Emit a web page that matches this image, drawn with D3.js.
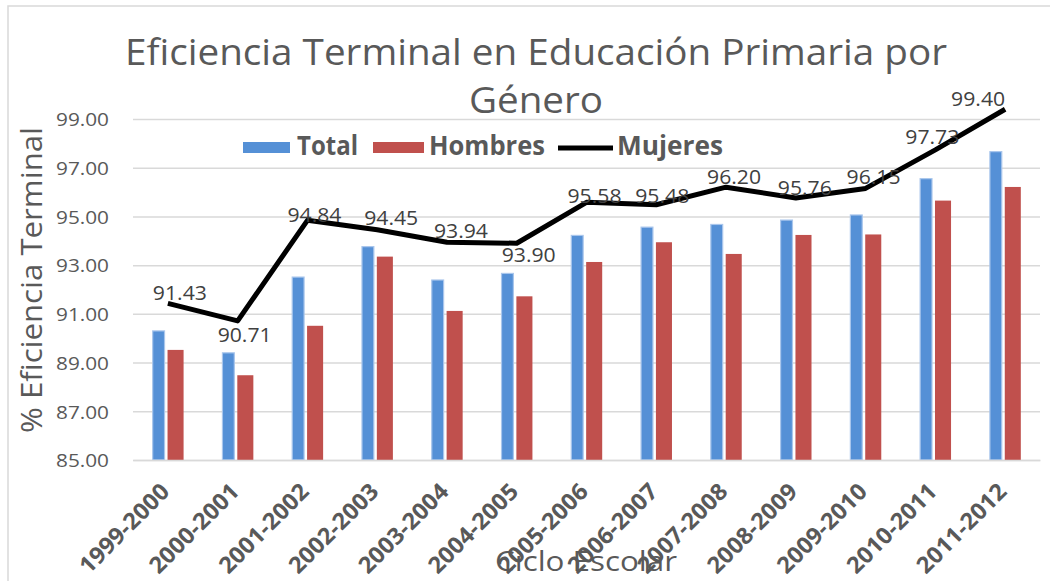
<!DOCTYPE html>
<html>
<head>
<meta charset="utf-8">
<script src="https://cdn.jsdelivr.net/npm/d3@7"></script>
<style>
  html, body { margin: 0; padding: 0; background: #ffffff; }
  svg { display: block; }
</style>
</head>
<body>
<svg id="chart" width="1050" height="581"></svg>
<script>
// ---------- data ----------
const categories = ["1999-2000", "2000-2001", "2001-2002", "2002-2003", "2003-2004", "2004-2005",
  "2005-2006", "2006-2007", "2007-2008", "2008-2009", "2009-2010", "2010-2011", "2011-2012"];
const totalValues = [90.30, 89.40, 92.51, 93.76, 92.39, 92.66, 94.22, 94.56, 94.67, 94.85, 95.06, 96.55, 97.66];
const hombresValues = [89.52, 88.48, 90.51, 93.35, 91.12, 91.72, 93.13, 93.94, 93.46, 94.24, 94.26, 95.65, 96.21];
const mujeresValues = [91.43, 90.71, 94.84, 94.45, 93.94, 93.90, 95.58, 95.48, 96.20, 95.76, 96.15, 97.73, 99.40];
const yTickValues = [85, 87, 89, 91, 93, 95, 97, 99];
const seriesNames = ["Total", "Hombres", "Mujeres"];
const titleLines = ["Eficiencia Terminal en Educación Primaria por", "Género"];
const yAxisTitle = "% Eficiencia Terminal";
const xAxisTitle = "Ciclo Escolar";

// ---------- layout / style (not data) ----------
const labelOffsets = [[12,-3],[7,21],[7,2],[14,-5],[14,-4],[12,19],[8,1],[6,-2],[8,-3],[9,-3],[8,-4],[-3,-6],[-27,-3]];
const colors = { total: "#5590D6", hombres: "#C0504D", mujeres: "#000000", text: "#595959", label: "#404040", grid: "#D9D9D9" };
const plot = { left: 133, right: 1040, top: 119, bottom: 460 };
const FONT = "'Open Sans', 'Noto Sans', sans-serif";

const svg = d3.select("#chart");

// chart frame
svg.append("rect").attr("x", 8).attr("y", 6).attr("width", 1100).attr("height", 640)
  .attr("fill", "#fff").attr("stroke", colors.grid).attr("stroke-width", 1.5);

const x = d3.scaleBand().domain(categories).range([plot.left, plot.right]).padding(0);
const y = d3.scaleLinear().domain([85, 99]).range([plot.bottom, plot.top]);
const bw = x.bandwidth();
const cx = d => x(d) + bw / 2;

// gridlines + y axis
const yAxis = d3.axisLeft(y).tickValues(yTickValues).tickFormat(d3.format(".2f"))
  .tickSize(-(plot.right - plot.left)).tickPadding(24);
const gy = svg.append("g").attr("transform", `translate(${plot.left},0)`).call(yAxis);
gy.select(".domain").remove();
gy.selectAll(".tick line").attr("stroke", colors.grid).attr("stroke-width", 1.5);
gy.selectAll(".tick text").attr("fill", colors.text).attr("font-family", FONT)
  .attr("font-size", 19).attr("dy", "0.36em").attr("textLength", 53).attr("lengthAdjust", "spacingAndGlyphs");

// bars
const gBars = svg.append("g");
gBars.selectAll("rect.total").data(categories).enter().append("rect")
  .attr("class", "total")
  .attr("x", d => cx(d) - bw * 0.218)
  .attr("width", bw * 0.17)
  .attr("y", (d, i) => y(totalValues[i]))
  .attr("height", (d, i) => y(85) - y(totalValues[i]))
  .attr("fill", colors.total)
  .attr("stroke", "#A9C6EC").attr("stroke-width", 1.2);
gBars.selectAll("rect.hombres").data(categories).enter().append("rect")
  .attr("class", "hombres")
  .attr("x", d => cx(d) - bw * 0.005)
  .attr("width", bw * 0.23)
  .attr("y", (d, i) => y(hombresValues[i]))
  .attr("height", (d, i) => y(85) - y(hombresValues[i]))
  .attr("fill", colors.hombres);

// x axis
const xAxis = d3.axisBottom(x).tickSize(0).tickPadding(0);
const gx = svg.append("g").attr("transform", `translate(0,${plot.bottom})`).call(xAxis);
gx.select(".domain").attr("stroke", colors.grid).attr("stroke-width", 1.5);
gx.selectAll(".tick text")
  .attr("fill", colors.text).attr("font-family", FONT).attr("font-weight", "bold").attr("font-size", 23)
  .attr("text-anchor", "end")
  .attr("textLength", 116).attr("lengthAdjust", "spacingAndGlyphs")
  .attr("transform", "translate(3,33) rotate(-45)")
  .attr("x", 0).attr("y", 0).attr("dy", "0");

// line
const line = d3.line().x((d, i) => cx(categories[i])).y(d => y(d));
svg.append("path").datum(mujeresValues).attr("d", line)
  .attr("fill", "none").attr("stroke", colors.mujeres).attr("stroke-width", 5)
  .attr("stroke-linejoin", "round");

// data labels
svg.append("g").selectAll("text").data(mujeresValues).enter().append("text")
  .attr("x", (d, i) => cx(categories[i]) + labelOffsets[i][0])
  .attr("y", (d, i) => y(d) + labelOffsets[i][1])
  .attr("text-anchor", "middle")
  .attr("font-family", FONT).attr("font-size", 20).attr("fill", colors.label)
  .attr("textLength", 54).attr("lengthAdjust", "spacingAndGlyphs")
  .text(d => d3.format(".2f")(d));

// title
const gTitle = svg.append("g").attr("fill", colors.text).attr("font-family", FONT).attr("font-size", 36);
const t1 = gTitle.append("text").attr("x", 536).attr("y", 65).attr("text-anchor", "middle").text(titleLines[0]);
const natural = t1.node().getComputedTextLength();
const sx = 822 / natural;
t1.attr("textLength", 822).attr("lengthAdjust", "spacingAndGlyphs");
const t2 = gTitle.append("text").attr("x", 536).attr("y", 113).attr("text-anchor", "middle").text(titleLines[1]);
t2.attr("textLength", t2.node().getComputedTextLength() * sx).attr("lengthAdjust", "spacingAndGlyphs");

// legend
const gLeg = svg.append("g").attr("font-family", FONT).attr("font-weight", "bold").attr("font-size", 26).attr("fill", colors.text);
gLeg.append("rect").attr("x", 243).attr("y", 142).attr("width", 47).attr("height", 11).attr("fill", colors.total);
gLeg.append("text").attr("x", 297).attr("y", 155).attr("textLength", 61).attr("lengthAdjust", "spacingAndGlyphs").text(seriesNames[0]);
gLeg.append("rect").attr("x", 373).attr("y", 142).attr("width", 51).attr("height", 11).attr("fill", colors.hombres);
gLeg.append("text").attr("x", 429).attr("y", 155).attr("textLength", 116).attr("lengthAdjust", "spacingAndGlyphs").text(seriesNames[1]);
gLeg.append("line").attr("x1", 558).attr("x2", 613).attr("y1", 148).attr("y2", 148).attr("stroke", "#000").attr("stroke-width", 5);
gLeg.append("text").attr("x", 617).attr("y", 155).attr("textLength", 106).attr("lengthAdjust", "spacingAndGlyphs").text(seriesNames[2]);

// axis titles
svg.append("text").attr("transform", "translate(42,280) rotate(-90)")
  .attr("text-anchor", "middle").attr("font-family", FONT).attr("font-size", 29).attr("fill", colors.text)
  .attr("textLength", 306).attr("lengthAdjust", "spacingAndGlyphs").text(yAxisTitle);
svg.append("text").attr("x", 586).attr("y", 571)
  .attr("text-anchor", "middle").attr("font-family", FONT).attr("font-size", 27).attr("fill", colors.text)
  .attr("textLength", 182).attr("lengthAdjust", "spacingAndGlyphs").text(xAxisTitle);
</script>
</body>
</html>
